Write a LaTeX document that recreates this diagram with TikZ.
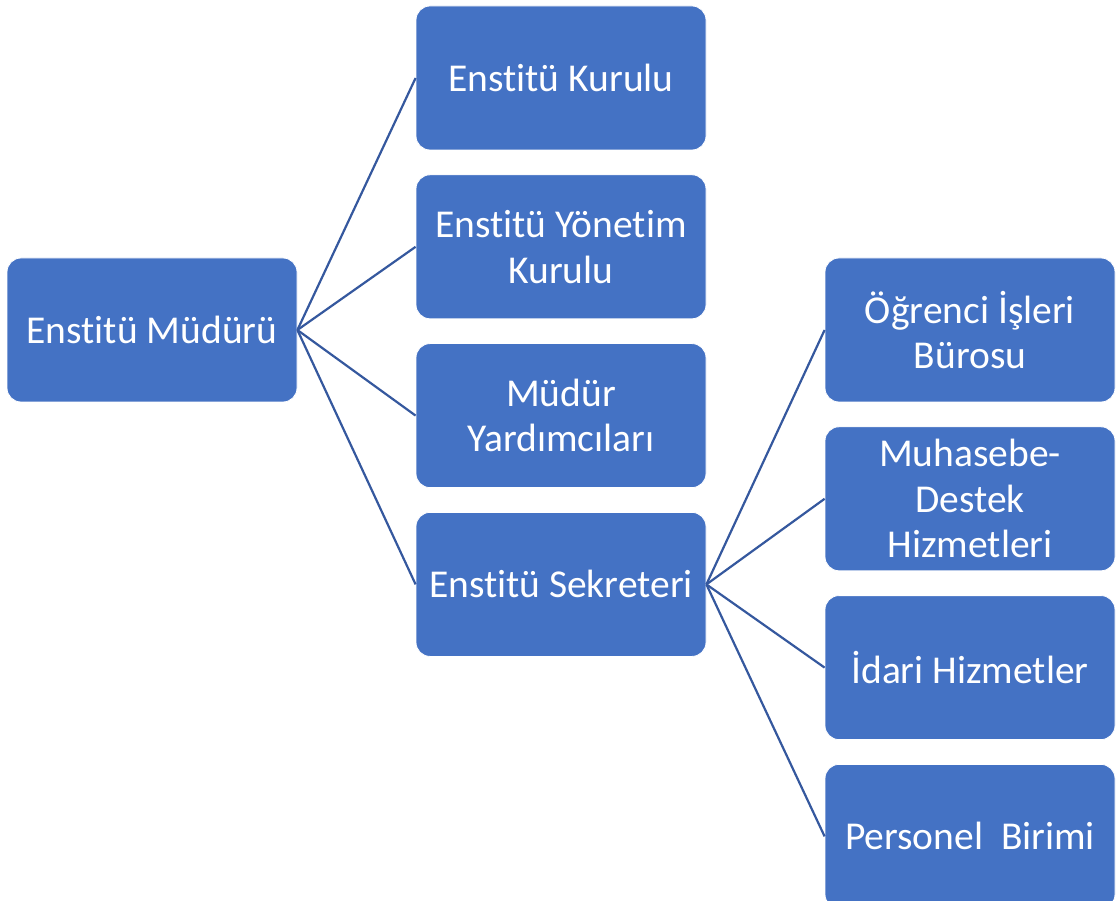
\documentclass[tikz,border=0pt]{standalone}
\usepackage{fontspec}
\setmainfont{Carlito}[Ligatures=NoCommon]
\usetikzlibrary{positioning}

\definecolor{unitblue}{HTML}{4472C4}
\definecolor{linkblue}{HTML}{35589E}

\begin{document}
\begin{tikzpicture}[
        x=1pt, y=1pt,
        unit/.style={rectangle, rounded corners=14pt, fill=unitblue, draw=white, line width=0.8pt,
            minimum width=290pt, minimum height=144pt, inner sep=0pt,
            text=white, align=center, font=\fontsize{39.5}{45.6}\selectfont},
        link/.style={draw=linkblue, line width=2.2pt},
        node distance=24pt,
        ]

        \useasboundingbox (0,0) rectangle (1120,-901);
        \clip (0,0) rectangle (1120,-901);

        % Nodes
        \node[unit] (Mudur) at (152,-330) {Enstitü Müdürü};

        \node[unit] (Kurul) at (561,-78) {Enstitü Kurulu};
        \node[unit, below=of Kurul] (Yonetim) {Enstitü Yönetim\\Kurulu};
        \node[unit, below=of Yonetim] (Yardimci) {Müdür\\Yardımcıları};
        \node[unit, below=of Yardimci] (Sekreter) {Enstitü Sekreteri};

        \node[unit] (Ogrenci) at (970,-330) {Öğrenci İşleri\\Bürosu};
        \node[unit, below=of Ogrenci] (Muhasebe) {Muhasebe-\\Destek\\Hizmetleri};
        \node[unit, below=of Muhasebe] (Idari) {İdari Hizmetler};
        \node[unit, below=of Idari] (Personel) {Personel\ \ Birimi};

        % Lines
        \foreach \dst in {Kurul, Yonetim, Yardimci, Sekreter}
            \draw[link] (Mudur.east) -- (\dst.west);
        \foreach \dst in {Ogrenci, Muhasebe, Idari, Personel}
            \draw[link] (Sekreter.east) -- (\dst.west);

    \end{tikzpicture}
\end{document}
